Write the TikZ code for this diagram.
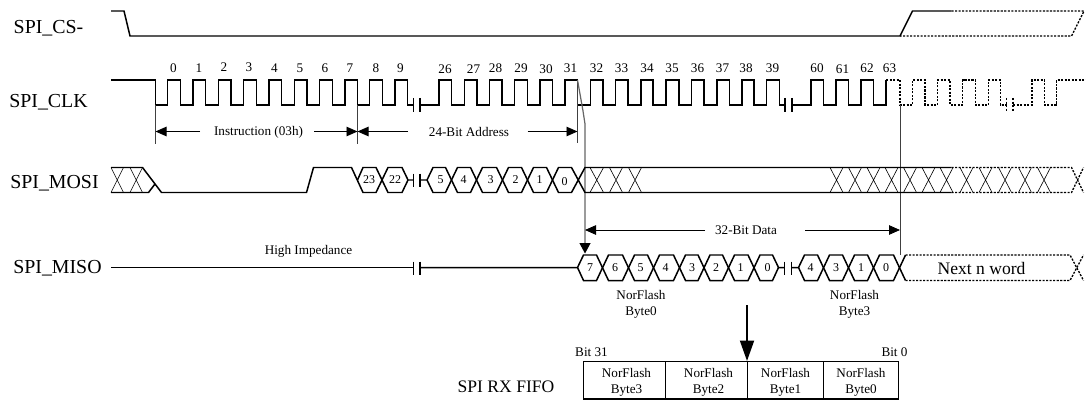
\documentclass[tikz,border=0pt]{standalone}
\usepackage{fontspec}
\setmainfont{Liberation Serif}
\usetikzlibrary{arrows.meta}
\tikzset{
sig/.style={line width=0.85pt},
sigdash/.style={line width=0.75pt,dash pattern=on 1.2pt off 0.8pt},
xthin/.style={line width=0.35pt},
guide/.style={line width=0.45pt,black!75},
dim/.style={line width=0.5pt,-{Triangle[length=0.22cm,width=0.19cm]}},
signame/.style={font=\fontsize{11.3}{13}\selectfont},
midtext/.style={font=\fontsize{10}{12}\selectfont},
small/.style={font=\fontsize{7.5}{9.4}\selectfont,align=center,inner sep=0pt,yshift=-0.6pt},
hexnum/.style={font=\fontsize{6.8}{8}\selectfont,inner sep=0pt},
}
\begin{document}
\begin{tikzpicture}
\useasboundingbox (0,0) rectangle (21.72,8.02);
% signal names
\draw (0.97,7.46)node[signame] (csname){SPI\_CS-};
\draw (0.97,5.98)node[signame] (clkname){SPI\_CLK};
\draw (1.09,4.36)node[signame] (mosiname){SPI\_MOSI};
\draw (1.15,2.65)node[signame] (misoname){SPI\_MISO};
% SPI_CS-
\draw [sig] (2.22,7.80)--(2.48,7.80)--(2.60,7.30)--(18.00,7.30)--(18.25,7.80)--(19.03,7.80);
\draw [sigdash] (19.03,7.80)--(21.68,7.80)--(21.43,7.30)--(18.00,7.30);
% SPI_CLK
\draw [sig] (2.22,6.42)--(3.11,6.42)--(3.11,5.92)--(3.35,5.92)--(3.35,6.42)--(3.61,6.42)--(3.61,5.92)
--(3.86,5.92)--(3.86,6.42)--(4.11,6.42)--(4.11,5.92)--(4.37,5.92)--(4.37,6.42)--(4.62,6.42)--(4.62,5.92)
--(4.87,5.92)--(4.87,6.42)--(5.13,6.42)--(5.13,5.92)--(5.38,5.92)--(5.38,6.42)--(5.63,6.42)--(5.63,5.92)
--(5.89,5.92)--(5.89,6.42)--(6.14,6.42)--(6.14,5.92)--(6.39,5.92)--(6.39,6.42)--(6.65,6.42)--(6.65,5.92)
--(6.90,5.92)--(6.90,6.42)--(7.15,6.42)--(7.15,5.92)--(7.39,5.92)--(7.39,6.42)--(7.65,6.42)--(7.65,5.92)
--(7.90,5.92)--(7.90,6.42)--(8.15,6.42)--(8.15,5.92)--(8.27,5.92);
\draw [sig] (8.27,6.06)--(8.27,5.79);
\draw [sig] (8.40,6.06)--(8.40,5.79);
\draw [sig] (8.40,5.92)--(8.78,5.92)--(8.78,6.42)--(9.03,6.42)--(9.03,5.92)--(9.29,5.92)--(9.29,6.42)
--(9.54,6.42)--(9.54,5.92)--(9.79,5.92)--(9.79,6.42)--(10.04,6.42)--(10.04,5.92)--(10.29,5.92)--(10.29,6.42)
--(10.55,6.42)--(10.55,5.92)--(10.80,5.92)--(10.80,6.42)--(11.05,6.42)--(11.05,5.92)--(11.30,5.92)--(11.30,6.42)
--(11.55,6.42)--(11.55,5.92)--(11.81,5.92)--(11.81,6.42)--(12.06,6.42)--(12.06,5.92)--(12.31,5.92)--(12.31,6.42)
--(12.56,6.42)--(12.56,5.92)--(12.82,5.92)--(12.82,6.42)--(13.06,6.42)--(13.06,5.92)--(13.32,5.92)--(13.32,6.42)
--(13.58,6.42)--(13.58,5.92)--(13.83,5.92)--(13.83,6.42)--(14.08,6.42)--(14.08,5.92)--(14.34,5.92)--(14.34,6.42)
--(14.59,6.42)--(14.59,5.92)--(14.84,5.92)--(14.84,6.42)--(15.08,6.42)--(15.08,5.92)--(15.33,5.92)--(15.33,6.42)
--(15.59,6.42)--(15.59,5.92)--(15.70,5.92);
\draw [sig] (15.70,6.06)--(15.70,5.79);
\draw [sig] (15.84,6.06)--(15.84,5.79);
\draw [sig] (15.84,5.92)--(16.22,5.92)--(16.22,6.42)--(16.47,6.42)--(16.47,5.92)--(16.72,5.92)--(16.72,6.42)
--(16.97,6.42)--(16.97,5.92)--(17.22,5.92)--(17.22,6.42)--(17.47,6.42)--(17.47,5.92)--(17.72,5.92)--(17.72,6.42);
\draw [sigdash] (17.72,6.42)--(18.00,6.42)--(18.00,5.92)--(18.25,5.92)--(18.25,6.42)--(18.50,6.42)--(18.50,5.92)
--(18.75,5.92)--(18.75,6.42)--(19.00,6.42)--(19.00,5.92)--(19.25,5.92)--(19.25,6.42)--(19.51,6.42)--(19.51,5.92)
--(19.77,5.92)--(19.77,6.42)--(20.01,6.42)--(20.01,5.92)--(20.13,5.92);
\draw [sigdash] (20.13,6.06)--(20.13,5.79);
\draw [sigdash] (20.26,6.06)--(20.26,5.79);
\draw [sigdash] (20.26,5.92)--(20.64,5.92)--(20.64,6.42)--(20.89,6.42)--(20.89,5.92)--(21.13,5.92)--(21.13,6.42)--(21.72,6.42);
% clock numbers
\draw (3.47,6.67)node[small] (clk0){0};
\draw (3.98,6.67)node[small] (clk1){1};
\draw (4.48,6.69)node[small] (clk2){2};
\draw (4.98,6.69)node[small] (clk3){3};
\draw (5.49,6.68)node[small] (clk4){4};
\draw (6.00,6.67)node[small] (clk5){5};
\draw (6.50,6.67)node[small] (clk6){6};
\draw (7.00,6.67)node[small] (clk7){7};
\draw (7.52,6.67)node[small] (clk8){8};
\draw (8.01,6.67)node[small] (clk9){9};
\draw (8.90,6.66)node[small] (clk26){26};
\draw (9.47,6.66)node[small] (clk27){27};
\draw (9.91,6.68)node[small] (clk28){28};
\draw (10.42,6.67)node[small] (clk29){29};
\draw (10.92,6.66)node[small] (clk30){30};
\draw (11.41,6.68)node[small] (clk31){31};
\draw (11.93,6.67)node[small] (clk32){32};
\draw (12.43,6.67)node[small] (clk33){33};
\draw (12.94,6.67)node[small] (clk34){34};
\draw (13.44,6.68)node[small] (clk35){35};
\draw (13.95,6.68)node[small] (clk36){36};
\draw (14.45,6.67)node[small] (clk37){37};
\draw (14.92,6.67)node[small] (clk38){38};
\draw (15.45,6.67)node[small] (clk39){39};
\draw (16.34,6.68)node[small] (clk60){60};
\draw (16.85,6.66)node[small] (clk61){61};
\draw (17.34,6.68)node[small] (clk62){62};
\draw (17.79,6.68)node[small] (clk63){63};
% timing guides and spans
\draw [guide] (3.11,5.92)--(3.11,5.14);
\draw [guide] (7.15,5.92)--(7.15,5.14);
\draw [guide] (11.55,6.42)--(11.55,5.16);
\draw [guide,black!60,line width=0.7pt,-{Triangle[length=0.21cm,width=0.22cm,black]}] (11.55,6.42)--(11.66,5.80)--(11.70,5.54)--(11.70,2.95);
\draw [guide] (18.00,5.92)--(18.00,2.92);
\draw [dim] (4.00,5.39)--(3.11,5.39);
\draw [dim] (6.28,5.39)--(7.15,5.39);
\draw [dim] (8.16,5.39)--(7.15,5.39);
\draw [dim] (10.55,5.39)--(11.55,5.39);
\draw [dim] (14.10,3.42)--(11.70,3.42);
\draw [dim] (16.10,3.42)--(18.00,3.42);
\draw (5.17,5.40)node[small] (instr){Instruction (03h)};
\draw (9.38,5.41)node[small] (addr){24-Bit Address};
\draw (14.92,3.43)node[small] (data){32-Bit Data};
% SPI_MOSI
\draw [xthin] (2.22,4.67)--(2.47,4.17) (2.22,4.17)--(2.47,4.67);
\draw [xthin] (2.60,4.67)--(2.85,4.17) (2.60,4.17)--(2.85,4.67);
\draw [sig] (2.22,4.67)--(2.85,4.67)--(3.23,4.17)--(6.13,4.17)--(6.27,4.67)--(7.03,4.67)--(7.26,4.17)--(7.52,4.17)
--(7.76,4.67)--(8.04,4.67)--(8.16,4.42)--(8.27,4.42);
\draw [sig] (2.22,4.17)--(2.97,4.17)--(3.10,4.34);
\draw [sig] (7.15,4.42)--(7.26,4.67)--(7.52,4.67)--(7.76,4.17)--(8.04,4.17)--(8.16,4.42);
\draw [sig] (8.27,4.55)--(8.27,4.29);
\draw [sig] (8.40,4.55)--(8.40,4.29);
\draw [sig] (8.40,4.42)--(8.54,4.42)--(8.66,4.67)--(8.91,4.67)--(9.15,4.17)--(9.41,4.17)--(9.65,4.67)--(9.93,4.67)
--(10.17,4.17)--(10.43,4.17)--(10.67,4.67)--(10.93,4.67)--(11.17,4.17)--(11.43,4.17)--(11.70,4.67)--(19.03,4.67);
\draw [sig] (8.54,4.42)--(8.66,4.17)--(8.91,4.17)--(9.15,4.67)--(9.41,4.67)--(9.65,4.17)--(9.93,4.17)
--(10.17,4.67)--(10.43,4.67)--(10.67,4.17)--(10.93,4.17)--(11.17,4.67)--(11.43,4.67)--(11.70,4.17)--(19.03,4.17);
\draw [xthin] (11.80,4.67)--(12.07,4.17) (11.80,4.17)--(12.07,4.67);
\draw [xthin] (12.19,4.67)--(12.45,4.17) (12.19,4.17)--(12.45,4.67);
\draw [xthin] (12.57,4.67)--(12.83,4.17) (12.57,4.17)--(12.83,4.67);
\draw [xthin] (16.60,4.67)--(16.86,4.17) (16.60,4.17)--(16.86,4.67);
\draw [xthin] (16.97,4.67)--(17.23,4.17) (16.97,4.17)--(17.23,4.67);
\draw [xthin] (17.34,4.67)--(17.60,4.17) (17.34,4.17)--(17.60,4.67);
\draw [xthin] (17.70,4.67)--(17.96,4.17) (17.70,4.17)--(17.96,4.67);
\draw [xthin] (18.07,4.67)--(18.33,4.17) (18.07,4.17)--(18.33,4.67);
\draw [xthin] (18.44,4.67)--(18.70,4.17) (18.44,4.17)--(18.70,4.67);
\draw [xthin] (18.80,4.67)--(19.06,4.17) (18.80,4.17)--(19.06,4.67);
\draw [xthin] (19.20,4.67)--(19.46,4.17) (19.20,4.17)--(19.46,4.67);
\draw [xthin] (19.58,4.67)--(19.84,4.17) (19.58,4.17)--(19.84,4.67);
\draw [xthin] (19.97,4.67)--(20.23,4.17) (19.97,4.17)--(20.23,4.67);
\draw [xthin] (20.37,4.67)--(20.63,4.17) (20.37,4.17)--(20.63,4.67);
\draw [xthin] (20.75,4.67)--(21.01,4.17) (20.75,4.17)--(21.01,4.67);
\draw [sigdash] (19.03,4.67)--(21.43,4.67)--(21.67,4.17);
\draw [sigdash] (19.03,4.17)--(21.43,4.17)--(21.67,4.67);
\draw (7.38,4.42)node[hexnum] (mosi23){23};
\draw (7.90,4.42)node[hexnum] (mosi22){22};
\draw (8.81,4.42)node[hexnum] (mosi5){5};
\draw (9.27,4.42)node[hexnum] (mosi4){4};
\draw (9.81,4.42)node[hexnum] (mosi3){3};
\draw (10.31,4.43)node[hexnum] (mosi2){2};
\draw (10.79,4.43)node[hexnum] (mosi1){1};
\draw (11.29,4.39)node[hexnum] (mosi0){0};
% SPI_MISO
\draw [sig] (2.22,2.67)--(8.27,2.67);
\draw [sig] (8.27,2.79)--(8.27,2.53);
\draw [sig] (8.40,2.79)--(8.40,2.53);
\draw [sig] (8.40,2.67)--(11.55,2.67)--(11.67,2.92)--(11.93,2.92)--(12.17,2.41)--(12.45,2.41)--(12.69,2.92)--(12.95,2.92)
--(13.19,2.41)--(13.47,2.41)--(13.71,2.92)--(13.96,2.92)--(14.20,2.41)--(14.45,2.41)--(14.69,2.92)--(14.96,2.92)
--(15.20,2.41)--(15.45,2.41)--(15.57,2.67)--(15.69,2.67);
\draw [sig] (11.55,2.67)--(11.67,2.41)--(11.93,2.41)--(12.17,2.92)--(12.45,2.92)--(12.69,2.41)--(12.95,2.41)
--(13.19,2.92)--(13.47,2.92)--(13.71,2.41)--(13.96,2.41)--(14.20,2.92)--(14.45,2.92)--(14.69,2.41)--(14.96,2.41)
--(15.20,2.92)--(15.45,2.92)--(15.57,2.67);
\draw [sig] (15.69,2.79)--(15.69,2.53);
\draw [sig] (15.83,2.79)--(15.83,2.53);
\draw [sig] (15.83,2.67)--(15.97,2.67)--(16.09,2.92)--(16.35,2.92)--(16.59,2.41)--(16.85,2.41)--(17.09,2.92)--(17.35,2.92)
--(17.59,2.41)--(17.87,2.41)--(18.11,2.92);
\draw [sig] (15.97,2.67)--(16.09,2.41)--(16.35,2.41)--(16.59,2.92)--(16.85,2.92)--(17.09,2.41)--(17.35,2.41)
--(17.59,2.92)--(17.87,2.92)--(18.11,2.41);
\draw [sigdash] (18.11,2.92)--(21.40,2.92)--(21.67,2.41);
\draw [sigdash] (18.11,2.41)--(21.40,2.41)--(21.67,2.92);
\draw (11.80,2.67)node[hexnum] (miso7a){7};
\draw (12.30,2.67)node[hexnum] (miso6a){6};
\draw (12.81,2.67)node[hexnum] (miso5a){5};
\draw (13.31,2.67)node[hexnum] (miso4a){4};
\draw (13.84,2.67)node[hexnum] (miso3a){3};
\draw (14.32,2.67)node[hexnum] (miso2a){2};
\draw (14.81,2.67)node[hexnum] (miso1a){1};
\draw (15.35,2.67)node[hexnum] (miso0a){0};
\draw (16.21,2.67)node[hexnum] (miso4b){4};
\draw (16.72,2.67)node[hexnum] (miso3b){3};
\draw (17.22,2.67)node[hexnum] (miso1b){1};
\draw (17.72,2.67)node[hexnum] (miso0b){0};
\draw (19.63,2.66)node[midtext] (nextword){Next n word};
\draw (6.17,3.02)node[small] (highz){High Impedance};
\draw (12.82,1.95)node[small] (byte0){NorFlash\\Byte0};
\draw (17.09,1.95)node[small] (byte3){NorFlash\\Byte3};
% RX FIFO
\draw [line width=1.1pt,-{Triangle[length=0.41cm,width=0.28cm]}] (14.94,1.92)--(14.94,0.80);
\draw [line width=0.6pt] (11.67,0.79) rectangle (17.97,0.04);
\draw [line width=0.6pt] (13.31,0.79)--(13.31,0.04);
\draw [line width=0.6pt] (14.95,0.79)--(14.95,0.04);
\draw [line width=0.6pt] (16.47,0.79)--(16.47,0.04);
\draw (12.53,0.39)node[small] (fifo3){NorFlash\\Byte3};
\draw (14.17,0.39)node[small] (fifo2){NorFlash\\Byte2};
\draw (15.71,0.39)node[small] (fifo1){NorFlash\\Byte1};
\draw (17.22,0.39)node[small] (fifo0){NorFlash\\Byte0};
\draw (11.83,0.99)node[small] (bit31){Bit 31};
\draw (17.89,0.99)node[small] (bit0){Bit 0};
\draw (10.12,0.28)node[midtext] (fifoname){SPI RX FIFO};
\end{tikzpicture}
\end{document}
